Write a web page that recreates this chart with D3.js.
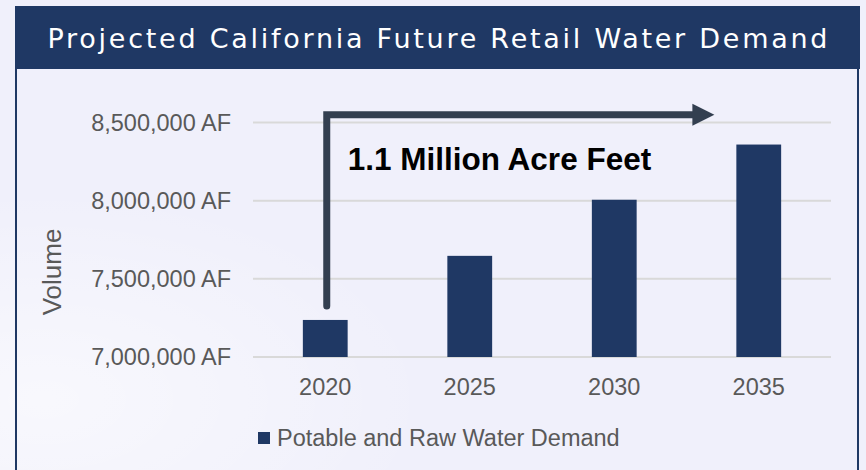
<!DOCTYPE html>
<html>
<head>
<meta charset="utf-8">
<script src="https://cdn.jsdelivr.net/npm/d3@7"></script>
<style>
  html, body { margin: 0; padding: 0; background: #f0f0fb; }
  svg { display: block; }
</style>
</head>
<body>
<div id="chart"></div>
<script>
// Chart data
const years = ["2020", "2025", "2030", "2035"];
const demand = [7237000, 7647000, 8006000, 8359000];
const yTicks = [7000000, 7500000, 8000000, 8500000];
const seriesName = "Potable and Raw Water Demand";
const titleText = "Projected California Future Retail Water Demand";
const noteText = "1.1 Million Acre Feet";
const arrowTopValue = 8550000;

const width = 866, height = 470;
const navy = "#1f3864";
const plot = { left: 253, right: 831, top: 122.5, bottom: 357 };

const svg = d3.select("#chart").append("svg")
  .attr("width", width).attr("height", height);

// soft background with a faint light patch on the left
const defs = svg.append("defs");
const glow = defs.append("radialGradient").attr("id", "glow")
  .attr("cx", "0.05").attr("cy", "0.85").attr("r", "0.45");
glow.append("stop").attr("offset", "0%").attr("stop-color", "#ffffff").attr("stop-opacity", 0.55);
glow.append("stop").attr("offset", "100%").attr("stop-color", "#ffffff").attr("stop-opacity", 0);
svg.append("rect").attr("width", width).attr("height", height).attr("fill", "#f0f0fb");
svg.append("rect").attr("width", width).attr("height", height).attr("fill", "url(#glow)");

// framed box + title bar
svg.append("rect")
  .attr("x", 16).attr("y", 60).attr("width", 842).attr("height", 420)
  .attr("fill", "none").attr("stroke", navy).attr("stroke-width", 2);
svg.append("rect")
  .attr("x", 15).attr("y", 6).attr("width", 845).attr("height", 63)
  .attr("fill", navy);
svg.append("text")
  .attr("x", 437.5).attr("y", 48)
  .attr("text-anchor", "middle")
  .attr("font-family", "DejaVu Sans, sans-serif")
  .attr("font-size", 27)
  .attr("fill", "#ffffff")
  .attr("textLength", 780).attr("lengthAdjust", "spacing")
  .text(titleText);

// scales
const x = d3.scaleBand().domain(years).range([plot.left, plot.right])
  .paddingInner(0.69).paddingOuter(0.345);
const y = d3.scaleLinear().domain([7000000, 8500000]).range([plot.bottom, plot.top]);

// gridlines
svg.append("g").selectAll("line").data(yTicks).join("line")
  .attr("x1", plot.left).attr("x2", plot.right)
  .attr("y1", d => y(d)).attr("y2", d => y(d))
  .attr("stroke", "#d9d9d9").attr("stroke-width", 2);

// y axis labels
const fmt = d3.format(",");
const yAxis = svg.append("g")
  .attr("transform", `translate(${plot.left},0)`)
  .call(d3.axisLeft(y).tickValues(yTicks).tickSize(0).tickPadding(22).tickFormat(d => fmt(d) + " AF"));
yAxis.select(".domain").remove();
yAxis.selectAll("text")
  .attr("font-family", "Liberation Sans, Arial, sans-serif")
  .attr("font-size", 23.5).attr("fill", "#595959");

// x axis labels
const xAxis = svg.append("g")
  .attr("transform", `translate(0,${plot.bottom})`)
  .call(d3.axisBottom(x).tickSize(0).tickPadding(21));
xAxis.select(".domain").remove();
xAxis.selectAll("text")
  .attr("font-family", "Liberation Sans, Arial, sans-serif")
  .attr("font-size", 23.5).attr("fill", "#595959");

// y title
svg.append("text")
  .attr("transform", `translate(61,272) rotate(-90)`)
  .attr("text-anchor", "middle")
  .attr("font-family", "Liberation Sans, Arial, sans-serif")
  .attr("font-size", 26).attr("fill", "#595959")
  .text("Volume");

// bars
svg.append("g").selectAll("rect").data(years).join("rect")
  .attr("x", d => x(d))
  .attr("y", (d, i) => y(demand[i]))
  .attr("width", x.bandwidth())
  .attr("height", (d, i) => y(7000000) - y(demand[i]))
  .attr("fill", navy);

// growth arrow annotation
const ax0 = x(years[0]) + x.bandwidth() / 2 + 1.5;
const ay0 = y(demand[0]) - 14;
const ay1 = y(arrowTopValue);
const tipX = x(years[3]) - 22;
svg.append("path")
  .attr("d", `M${ax0},${ay0} V${ay1} H${tipX - 18}`)
  .attr("fill", "none").attr("stroke", "#333f50").attr("stroke-width", 7)
  .attr("stroke-linecap", "round").attr("stroke-linejoin", "miter");
svg.append("path")
  .attr("d", `M${tipX - 22},${ay1 - 11} L${tipX},${ay1} L${tipX - 22},${ay1 + 11} Z`)
  .attr("fill", "#333f50");

svg.append("text")
  .attr("x", ax0 + 21).attr("y", 170)
  .attr("font-family", "Liberation Sans, Arial, sans-serif")
  .attr("font-weight", "bold").attr("font-size", 31.5).attr("fill", "#000")
  .text(noteText);

// legend
const legend = svg.append("g").attr("transform", "translate(258,432)");
legend.append("rect").attr("width", 12).attr("height", 12).attr("fill", navy);
legend.append("text")
  .attr("x", 19).attr("y", 6).attr("dy", "0.35em")
  .attr("font-family", "Liberation Sans, Arial, sans-serif")
  .attr("font-size", 23.5).attr("fill", "#595959")
  .text(seriesName);
</script>
</body>
</html>
